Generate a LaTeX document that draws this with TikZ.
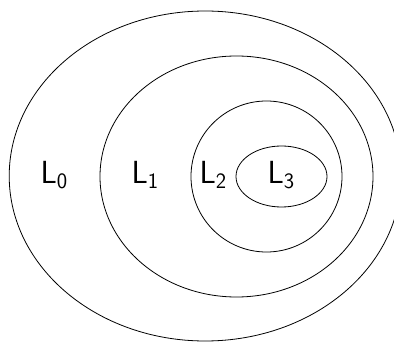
\documentclass[tikz,border=0pt]{standalone}
\usepackage{fontspec}
\newcommand{\setsub}[1]{{\fontsize{22}{24}\selectfont\raisebox{-5pt}{#1}}}
\begin{document}
\begin{tikzpicture}[x=1pt,y=1pt,
  setline/.style={draw=black,line width=0.8pt},
  setlabel/.style={font=\fontsize{32}{34}\selectfont\sffamily,anchor=base,inner sep=0pt}]
\useasboundingbox (0,0) rectangle (394,343);
\clip (0,0) rectangle (394,343);
\draw[setline] (205.2,167) ellipse [x radius=196, y radius=165];
\draw[setline] (236.5,166.5) ellipse [x radius=136.5, y radius=120.5];
\draw[setline] (266.5,166.5) ellipse [x radius=75.5, y radius=75.5];
\draw[setline] (281.5,166.5) ellipse [x radius=45.5, y radius=30.5];
\node[setlabel] (l0) at (54,159) {L\setsub{0}};
\node[setlabel] (l1) at (145,159) {L\setsub{1}};
\node[setlabel] (l2) at (213,159) {L\setsub{2}};
\node[setlabel] (l3) at (281,159) {L\setsub{3}};
\end{tikzpicture}
\end{document}
